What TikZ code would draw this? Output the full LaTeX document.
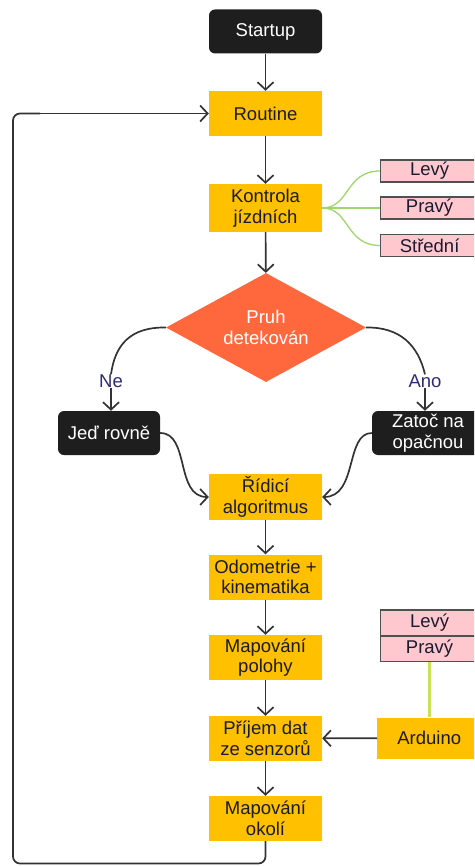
\documentclass[tikz,border=0pt]{standalone}
\usepackage{fontspec}
\setmainfont{Liberation Sans}
\usetikzlibrary{shapes.geometric,arrows.meta}
\definecolor{yel}{HTML}{FFC000}
\definecolor{blk}{HTML}{1E1E1E}
\definecolor{dia}{HTML}{FF673D}
\definecolor{pink}{HTML}{FFC7CE}
\definecolor{pinkb}{HTML}{505050}
\definecolor{navy}{HTML}{2A2A78}
\definecolor{txt}{HTML}{1A1A30}
\definecolor{lgreen}{HTML}{9ED66C}
\definecolor{ygreen}{HTML}{C8E450}
\definecolor{edge}{HTML}{333333}
\tikzset{
  x=1pt,y=-1pt,
  every node/.style={font=\fontsize{18.5}{20.5}\selectfont, align=center, inner sep=0pt},
  ybox/.style={fill=yel, text=txt, minimum width=113pt, minimum height=45pt},
  bbox/.style={fill=blk, text=white, rounded corners=6pt, minimum height=44pt},
  pbox/.style={fill=pink, draw=pinkb, line width=1.2pt, text=txt, minimum width=98pt, anchor=west},
  arr/.style={draw=edge, line width=1.7pt, -{Straight Barb[length=7.5pt,width=16pt,line width=1.7pt]}},
  ln/.style={draw=edge, line width=1.7pt},
  lbl/.style={text=navy},
}
\begin{document}
\begin{tikzpicture}
\useasboundingbox (0,0) rectangle (474,866);
\clip (0,0) rectangle (474,866);
% main column
\node[bbox, minimum width=113pt] (start) at (265.5,31.5) {Startup};
\node[ybox] (rout) at (265.5,113.5) {Routine};
\node[ybox, minimum height=48pt] (kon) at (265.5,208) {Kontrola\\jízdních};
\node[diamond, fill=dia, text=white, minimum width=200pt, minimum height=109pt, aspect=1.83] (d) at (266,327.5) {Pruh\\detekován};
\node[bbox, minimum width=102pt] (jed) at (109,433) {Jeď rovně};
\node[bbox, minimum width=112pt] (zat) at (428,433) {Zatoč na\\opačnou};
\node[ybox, minimum height=46pt] (rid) at (265.5,497) {Řídicí\\algoritmus};
\node[ybox] (odo) at (265.5,577) {Odometrie +\\kinematika};
\node[ybox] (mpol) at (265.5,657.5) {Mapování\\polohy};
\node[ybox] (pri) at (265.5,738.5) {Příjem dat\\ze senzorů};
\node[ybox] (mok) at (265.5,818.5) {Mapování\\okolí};
% side boxes
\node[pbox, minimum height=22pt] (lev) at (380,171) {Levý};
\node[pbox, minimum height=22pt] (pra) at (380,208) {Pravý};
\node[pbox, minimum height=22pt] (str) at (380,245.5) {Střední};
\node[pbox, minimum height=26pt] (lev2) at (380,623) {Levý};
\node[pbox, minimum height=25pt, anchor=north west] (pra2) at (380,636) {Pravý};
\node[fill=yel, text=txt, minimum width=104pt, minimum height=41pt, anchor=west] (ard) at (377,738) {Arduino};
% labels
\node[lbl] (ne) at (111,381) {Ne};
\node[lbl] (ano) at (425,381) {Ano};
\coordinate (loopc) at (265.5,863.5);
% connectors
\draw[arr] (start) -- (rout);
\draw[arr] (rout) -- (kon);
\draw[arr] (kon) -- (d);
\draw[ln] (d.west) .. controls (130,327) and (115,345) .. (ne.north);
\draw[ln] (d.east) .. controls (400,327) and (418,345) .. (ano.north);
\draw[arr] (ne.south) -- (jed.north -| ne.south);
\draw[arr] (ano.south) -- (zat.north -| ano.south);
\draw[arr] (jed.east) .. controls (190,433) and (175,497) .. (rid.west);
\draw[arr] (zat.west) .. controls (345,433) and (358,497) .. (rid.east);
\draw[arr] (rid) -- (odo);
\draw[arr] (odo) -- (mpol);
\draw[arr] (mpol) -- (pri);
\draw[arr] (pri) -- (mok);
\draw[arr] (ard) -- (pri);
\draw[ln, rounded corners=7pt] (mok.south) -- (loopc) -- (13,863.5) -- (13,113.5) -- (40,113.5);
\draw[arr] (30,113.5) -- (rout.west);
% green
\draw[lgreen, line width=1.3pt] (kon.east) .. controls (350,208) and (345,171) .. (lev.west);
\draw[lgreen, line width=1.3pt] (kon.east) -- (pra.west);
\draw[lgreen, line width=1.3pt] (kon.east) .. controls (350,208) and (345,245.5) .. (str.west);
\draw[ygreen, line width=2.6pt] (pra2.south -| ard.north) -- (ard.north);
\end{tikzpicture}
\end{document}
